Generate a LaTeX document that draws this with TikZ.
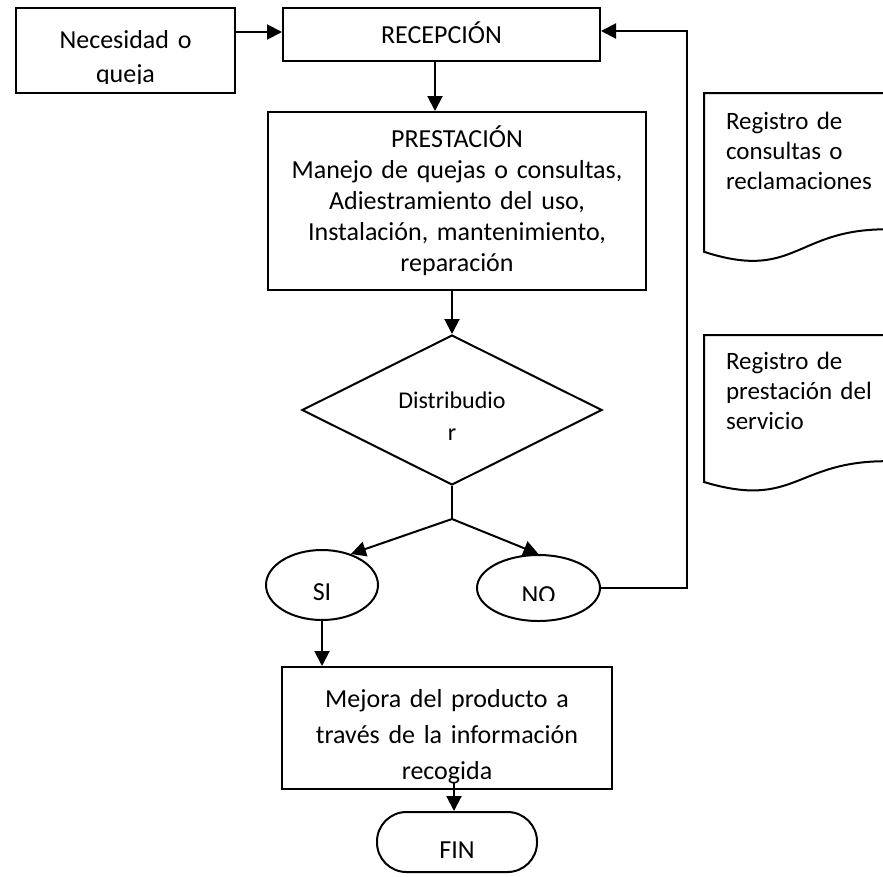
\documentclass[tikz,border=0pt]{standalone}
\usepackage{fontspec}
\setmainfont{Carlito}
\usetikzlibrary{arrows.meta,shapes.geometric,calc}
\newcommand{\fsz}[2]{\fontsize{#1}{#2}\selectfont\lineskiplimit=-100pt\lineskip=0pt\relax}
\begin{document}
\begin{tikzpicture}[x=1pt,y=-1pt,line width=2pt,
  shp/.style={draw, inner sep=0pt},
  box/.style={shp, rectangle},
  doct/.style={inner sep=0pt, text width=155pt, align=left, font=\fsz{25}{30}},
  arr/.style={-{Triangle[length=15pt,width=15pt]}},
]
\useasboundingbox (0,0) rectangle (883,876);

% Necesidad o queja (text overflows its box and is cut at the bottom)
\node[box, minimum width=219pt, minimum height=85pt] (nec) at (125.5,50.5) {};
\begin{scope}
  \clip (16,8) rectangle (235,83.5);
  \node[inner sep=0pt, text width=219pt, align=center, font=\fsz{26}{34}, anchor=base] (necT) at (125.5,48) {Necesidad o\\queja};
\end{scope}

% Recepcion
\node[box, minimum width=317pt, minimum height=53pt, font=\fsz{26}{31}, text height=17pt, text depth=0pt] (rec) at (441.5,34.5) {RECEPCIÓN};

% Prestacion
\node[box, minimum width=378pt, minimum height=178pt, text width=366pt, align=center, font=\fsz{26}{31}, text height=0pt, text depth=108pt] (pres) at (457,201)
  {PRESTACIÓN\\Manejo de quejas o consultas,\\Adiestramiento del uso,\\Instalación, mantenimiento,\\reparación};

% Decision
\node[shp, diamond, aspect=2, minimum width=300pt, minimum height=150pt, text width=140pt, align=center, font=\fsz{24}{32}, text height=0pt, text depth=4pt] (dec) at (452,410) {Distribudio\\r};

% SI / NO
\node[shp, ellipse, minimum width=112pt, minimum height=70pt, font=\fsz{26}{31}, text height=30pt, text depth=0pt] (si) at (322,585) {SI};
\begin{scope}
  \clip (470,540) rectangle (610,600);
  \node[inner sep=0pt, font=\fsz{26}{31}, anchor=base] (noT) at (538.5,603) {NO};
\end{scope}
\node[shp, ellipse, minimum width=123pt, minimum height=66pt] (no) at (538.5,588) {};

% Mejora
\node[box, minimum width=330pt, minimum height=122pt, text width=320pt, align=center, font=\fsz{26}{36}, text height=0pt, text depth=42pt] (mej) at (447,728)
  {Mejora del producto a\\través de la información\\recogida};

% FIN
\node[box, rounded corners=29.5pt, minimum width=160pt, minimum height=60pt, font=\fsz{26}{31}, text height=32pt, text depth=0pt] (fin) at (457,842) {FIN};

% Documents
\draw (704,93) -- (886,93) -- (886,229.3) .. controls (795,229.3) and (795,281.3) .. (704,251.8) -- cycle;
\node[doct, anchor=base west] (d1) at (725,129) {Registro de\\consultas o\\reclamaciones};
\draw (704,335) -- (886,335) -- (886,461.2) .. controls (795,461.2) and (795,509.4) .. (704,482) -- cycle;
\node[doct, anchor=base west] (d2) at (725,369) {Registro de\\prestación del\\servicio};

% Connectors
\draw[arr] ($(nec.east |- rec.west)+(0,-2.5)$) -- ($(rec.west)+(0,-2.5)$);
\draw[arr] ($(rec.south)+(-6.5,0)$) -- ($(rec.south |- pres.north)+(-6.5,0)$);
\draw[arr] (pres.south -| dec.north) -- (dec.north);
\coordinate (jn) at (452,519);
\draw (dec.south) -- (jn);
\draw[arr] (jn) -- (si.47);
\draw[arr] (jn) -- (no.north);
\coordinate (fb) at (687,31);
\draw[arr] (no.east) -| (fb) -- (fb -| rec.east);
\draw[arr] (si.south) -- (si.south |- mej.north);
\draw[arr] ($(fin.north |- mej.south)+(-3,-7)$) -- ($(fin.north)+(-3,0)$);
\end{tikzpicture}
\end{document}
